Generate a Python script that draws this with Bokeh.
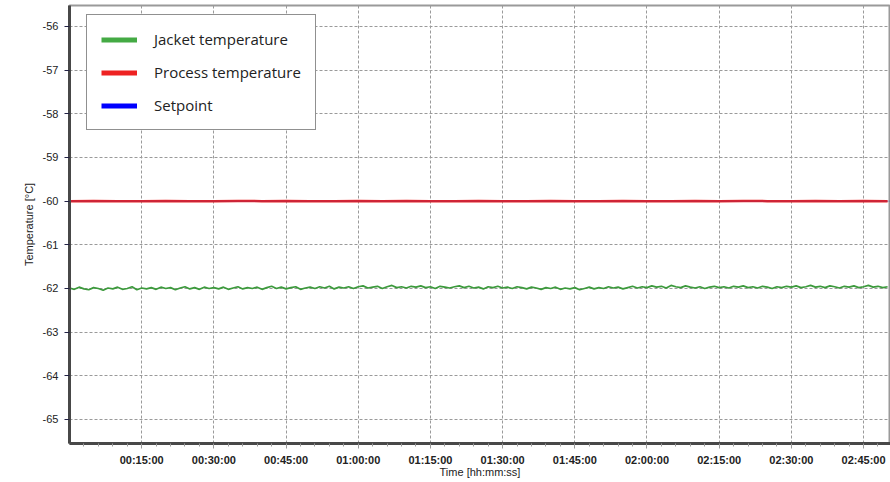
from bokeh.plotting import figure
from bokeh.models import Range1d, FixedTicker, Legend, LegendItem, ColumnDataSource
from bokeh.embed import file_html
from bokeh.resources import INLINE

# Time in minutes
jacket_time = list(range(0, 171))
jacket_temp = [
    -61.99, -62.02, -61.97, -62.01, -62.03, -61.98, -62.00, -62.04, -61.99, -62.01,
    -61.97, -62.02, -62.00, -61.96, -62.03, -61.99, -62.01, -61.98, -62.02, -61.97,
    -62.00, -61.98, -62.03, -61.99, -61.96, -62.01, -61.98, -62.02, -61.97, -62.00,
    -61.98, -62.01, -61.97, -62.02, -61.99, -61.96, -62.01, -61.98, -62.00, -61.97,
    -62.02, -61.98, -61.95, -62.00, -61.97, -62.01, -61.98, -61.96, -62.02, -61.99,
    -61.97, -62.00, -61.96, -61.99, -61.95, -62.01, -61.97, -61.99, -61.96, -62.00,
    -61.96, -61.94, -61.99, -61.97, -61.95, -62.00, -61.96, -61.93, -61.98, -61.96,
    -61.99, -61.95, -61.97, -61.94, -61.98, -61.96, -62.00, -61.95, -61.97, -61.99,
    -61.96, -61.94, -61.98, -61.95, -61.99, -61.97, -62.01, -61.96, -61.98, -61.95,
    -61.99, -61.97, -62.00, -61.96, -61.98, -62.01, -61.97, -61.99, -62.02, -61.98,
    -62.00, -61.97, -62.02, -61.99, -62.01, -61.98, -62.03, -62.00, -61.97, -62.01,
    -61.98, -62.00, -61.96, -61.99, -61.97, -62.01, -61.98, -61.95, -61.99, -61.96,
    -61.98, -61.94, -61.97, -61.95, -61.99, -61.93, -61.96, -61.98, -61.94, -61.97,
    -61.99, -61.96, -62.00, -61.97, -61.95, -61.98, -61.96, -61.99, -61.95, -61.97,
    -61.94, -61.98, -61.96, -61.99, -61.95, -61.97, -62.00, -61.96, -61.98, -61.95,
    -61.97, -61.94, -61.98, -61.96, -61.93, -61.97, -61.95, -61.98, -61.94, -61.96,
    -61.99, -61.95, -61.97, -61.94, -61.98, -61.96, -61.93, -61.97, -61.95, -61.98,
    -61.96,
]

process_time = list(range(0, 171, 5))
process_temp = [
    -60.00, -59.995, -60.005, -60.00, -59.995, -60.00, -60.005, -59.995, -60.00, -59.995,
    -60.00, -60.005, -59.995, -60.00, -59.995, -60.00, -60.005, -59.995, -60.00, -60.00,
    -59.995, -60.005, -60.00, -59.995, -60.00, -60.005, -59.995, -60.00, -59.995, -60.00,
    -60.005, -59.995, -60.00, -59.995, -60.00,
]

setpoint_time = [0, 171]
setpoint_temp = [-60.0, -60.0]

y_ticks = [-65, -64, -63, -62, -61, -60, -59, -58, -57, -56]
x_ticks = [15, 30, 45, 60, 75, 90, 105, 120, 135, 150, 165]
x_tick_labels = ["00:15:00", "00:30:00", "00:45:00", "01:00:00", "01:15:00", "01:30:00",
                 "01:45:00", "02:00:00", "02:15:00", "02:30:00", "02:45:00"]
x_minor = [m for m in range(3, 171, 3) if m % 15 != 0]

series_names = ["Jacket temperature", "Process temperature", "Setpoint"]

p = figure(width=890, height=482, output_backend="svg", toolbar_location=None,
           x_range=Range1d(0, 170.6), y_range=Range1d(-65.55, -55.52),
           min_border_left=69, min_border_right=0, min_border_top=5, min_border_bottom=39)

p.background_fill_color = "white"
p.border_fill_color = "white"
p.outline_line_color = "#9a9a9a"
p.outline_line_width = 2

# grids
p.xgrid.ticker = FixedTicker(ticks=x_ticks)
p.ygrid.ticker = FixedTicker(ticks=y_ticks)
for g in (p.xgrid, p.ygrid):
    g.grid_line_color = "#9a9a9a"
    g.grid_line_dash = "3 2"
    g.grid_line_width = 1

# x axis
xa = p.xaxis[0]
xa.ticker = FixedTicker(ticks=x_ticks, minor_ticks=x_minor)
xa.major_label_overrides = {t: l for t, l in zip(x_ticks, x_tick_labels)}
xa.axis_label = "Time [hh:mm:ss]"
xa.axis_label_text_font = "Liberation Sans"
xa.axis_label_text_font_size = "11px"
xa.axis_label_text_font_style = "normal"
xa.axis_label_text_color = "#222222"
xa.axis_label_standoff = -3
xa.major_label_text_font = "Liberation Sans"
xa.major_label_text_font_size = "11px"
xa.major_label_text_font_style = "bold"
xa.major_label_text_color = "#222222"
xa.major_label_standoff = 5
xa.axis_line_color = "#484848"
xa.axis_line_width = 3
xa.major_tick_line_color = "#9a9a9a"
xa.major_tick_out = 5
xa.major_tick_in = 0
xa.minor_tick_line_color = "#9a9a9a"
xa.minor_tick_out = 3
xa.minor_tick_in = 0

# y axis
ya = p.yaxis[0]
ya.ticker = FixedTicker(ticks=y_ticks, minor_ticks=[])
ya.major_label_overrides = {t: str(t) for t in y_ticks}
ya.axis_label = "Temperature [°C]"
ya.axis_label_text_font = "Liberation Sans"
ya.axis_label_text_font_size = "11px"
ya.axis_label_text_font_style = "normal"
ya.axis_label_text_color = "#222222"
ya.axis_label_standoff = 5
ya.major_label_text_font = "Liberation Sans"
ya.major_label_text_font_size = "11px"
ya.major_label_text_color = "#222222"
ya.major_label_standoff = 6
ya.axis_line_color = "#484848"
ya.axis_line_width = 3
ya.major_tick_line_color = "#222244"
ya.major_tick_out = 5
ya.major_tick_in = 0

# data lines
p.line(jacket_time, jacket_temp, line_color="#3c9a3c", line_width=1.7)
p.line(process_time, process_temp, line_color="#ec2424", line_width=2.5)
p.line(setpoint_time, setpoint_temp, line_color="#2a2aa0", line_width=1, line_alpha=0.3)

# legend swatches (thick lines, nothing visible in the plot)
nan = float("nan")
dummy = ColumnDataSource(data=dict(x=[nan], y=[nan]))
r1 = p.line("x", "y", source=dummy, line_color="#44aa44", line_width=5)
r2 = p.line("x", "y", source=dummy, line_color="#ee2222", line_width=5)
r3 = p.line("x", "y", source=dummy, line_color="#0000ff", line_width=5)

legend = Legend(items=[LegendItem(label=series_names[0], renderers=[r1]),
                       LegendItem(label=series_names[1], renderers=[r2]),
                       LegendItem(label=series_names[2], renderers=[r3])],
                location=(17, 313))
legend.label_text_font = "Open Sans"
legend.label_text_font_size = "15px"
legend.label_text_color = "#222222"
legend.glyph_width = 36
legend.glyph_height = 19
legend.label_height = 19
legend.label_width = 145
legend.label_standoff = 17
legend.spacing = 13
legend.padding = 14
legend.margin = 0
legend.border_line_color = "#222222"
legend.border_line_width = 1
legend.background_fill_color = "white"
legend.background_fill_alpha = 1
p.add_layout(legend)

open("out.html", "w").write(file_html(p, INLINE))
